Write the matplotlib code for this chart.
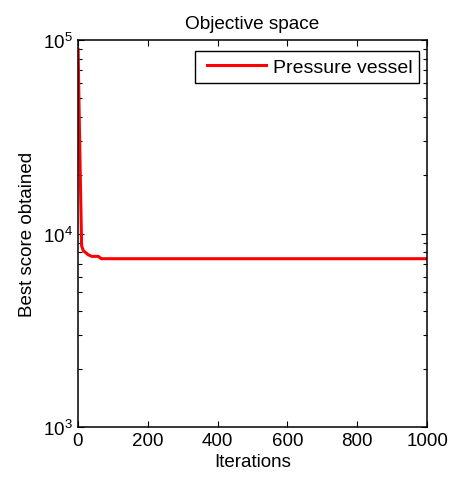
import matplotlib
matplotlib.use("Agg")
import numpy as np
import matplotlib.pyplot as plt
from matplotlib.ticker import LogLocator, NullFormatter
from matplotlib.legend_handler import HandlerLine2D

plt.rcParams['font.family'] = ['Liberation Sans', 'DejaVu Sans']

iterations = [1, 5, 11, 16, 30, 40, 59, 67, 1000]
best_score = [89800, 33500, 8670, 8170, 7790, 7640, 7640, 7430, 7430]
series_label = "Pressure vessel"
title = "Objective space"
xlabel = "Iterations"
ylabel = "Best score obtained"
xticks = [0, 200, 400, 600, 800, 1000]


class PaddedLine(HandlerLine2D):
    def get_xdata(self, legend, xdescent, ydescent, width, height, fontsize):
        pad = 3.6
        return [-xdescent + pad, -xdescent + width], [-xdescent + 0.5 * width]


fig = plt.figure(figsize=(4.52, 4.85), dpi=100)
ax = fig.add_axes([0.172, 0.117, 0.773, 0.798])
line, = ax.semilogy(iterations, best_score, color='#ff0000', linewidth=2.2, label=series_label)
ax.set_xlim(0, 1000)
ax.set_ylim(1e3, 1e5)
ax.set_xticks(xticks)
ax.yaxis.set_major_locator(LogLocator(base=10, numticks=10))
ax.yaxis.set_minor_locator(LogLocator(base=10, subs=range(2, 10), numticks=20))
ax.yaxis.set_minor_formatter(NullFormatter())
ax.tick_params(which='both', direction='in', top=True, right=True, labelsize=13.5, width=0.8)
ax.tick_params(which='major', length=4)
ax.tick_params(which='minor', length=3)
for s in ax.spines.values():
    s.set_linewidth(1.1)
ax.set_title(title, fontsize=13.7, pad=9)
ax.set_xlabel(xlabel, fontsize=13.5, labelpad=3)
ax.set_ylabel(ylabel, fontsize=13.5, labelpad=5)
leg = ax.legend(loc='upper right', bbox_to_anchor=(1 - 8 / 349, 1 - 10.7 / 387),
                borderaxespad=0, fontsize=14, fancybox=False, framealpha=1,
                edgecolor='black', handlelength=3.34, handletextpad=0.31,
                borderpad=0.36, handler_map={line: PaddedLine()})
leg.get_frame().set_linewidth(1.0)
fig.savefig("out.png", dpi=100)
